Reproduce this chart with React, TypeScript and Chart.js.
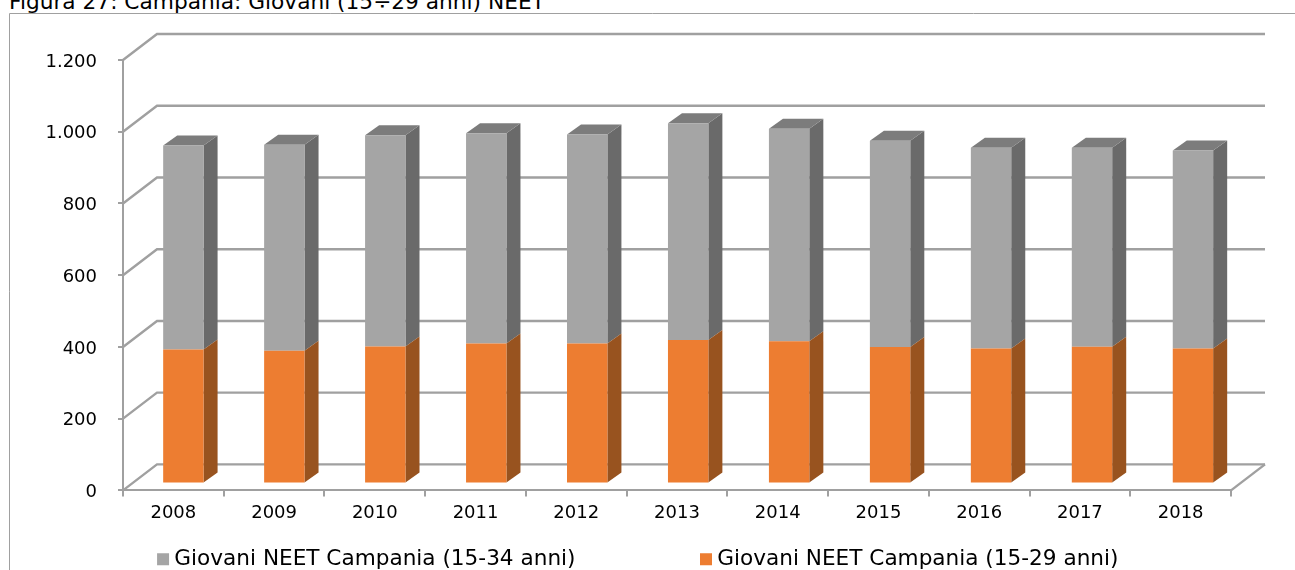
import React, { useEffect, useRef } from "react";
import { Chart, registerables } from "chart.js";

Chart.register(...registerables);

const years = ["2008", "2009", "2010", "2011", "2012", "2013", "2014", "2015", "2016", "2017", "2018"];
const neet1529 = [373, 370, 382, 390, 390, 400, 396, 380, 376, 381, 376];
const neet1534 = [569, 574, 589, 586, 583, 604, 593, 575, 560, 555, 552];
const seriesNames = ["Giovani NEET Campania (15-29 anni)", "Giovani NEET Campania (15-34 anni)"];
const yTickLabels = ["0", "200", "400", "600", "800", "1.000", "1.200"];
const figureTitle = "Figura 27: Campania: Giovani (15÷29 anni) NEET";

const FONT = "'DejaVu Sans', Verdana, sans-serif";
const GRID = "#a0a0a0";

const wall = { dx: 34, dy: -26 };
const barDepth = { dx: 14, dy: -10 };
const barShift = { dx: 9.6, dy: -7 };
const barStretch = 1.0023;
const legendGap = 130;
const faces = [
  { side: "#98531f", top: "#b3602a" },
  { side: "#6a6a6a", top: "#7c7c7c" },
];

const threeD = {
  id: "threeD",
  afterLayout(chart: any) {
    // the item spacing also acts as vertical padding in the legend: cancel it
    chart.legend.top = 548.5 - legendGap;
    chart.legend.left = 25;
    chart.legend.right = 1256;
  },
  beforeDraw(chart: any) {
    const { ctx, width, height, chartArea, scales } = chart;
    for (const item of scales.y.getLabelItems(chartArea)) {
      item.options.translation[1] += 2;
    }
    ctx.save();
    ctx.strokeStyle = "#a0a0a0";
    ctx.lineWidth = 1;
    ctx.beginPath();
    ctx.moveTo(9.5, height);
    ctx.lineTo(9.5, 13.5);
    ctx.lineTo(width, 13.5);
    ctx.stroke();
    ctx.restore();
  },
  beforeDatasetsDraw(chart: any) {
    const { ctx, chartArea, scales } = chart;
    const y = scales.y;
    ctx.save();
    ctx.strokeStyle = GRID;
    ctx.lineWidth = 2.4;
    for (const t of y.ticks) {
      const py = y.getPixelForValue(t.value);
      ctx.beginPath();
      ctx.moveTo(chartArea.left, py);
      ctx.lineTo(chartArea.left + wall.dx, py + wall.dy);
      ctx.lineTo(chartArea.right + wall.dx, py + wall.dy);
      ctx.stroke();
    }
    const base = y.getPixelForValue(0);
    ctx.beginPath();
    ctx.moveTo(chartArea.right + wall.dx, base + wall.dy);
    ctx.lineTo(chartArea.right, base);
    ctx.stroke();
    ctx.restore();
  },
  beforeDatasetDraw(chart: any, args: any) {
    const { ctx } = chart;
    ctx.save();
    ctx.translate(barShift.dx, barShift.dy);
    ctx.scale(barStretch, 1);
    const f = faces[args.index];
    for (const bar of args.meta.data) {
      const r = bar.x + bar.width / 2;
      const l = bar.x - bar.width / 2;
      ctx.fillStyle = f.side;
      ctx.beginPath();
      ctx.moveTo(r, bar.y);
      ctx.lineTo(r + barDepth.dx, bar.y + barDepth.dy);
      ctx.lineTo(r + barDepth.dx, bar.base + barDepth.dy);
      ctx.lineTo(r, bar.base);
      ctx.closePath();
      ctx.fill();
      if (args.index === 1) {
        ctx.fillStyle = f.top;
        ctx.beginPath();
        ctx.moveTo(l, bar.y);
        ctx.lineTo(l + barDepth.dx, bar.y + barDepth.dy);
        ctx.lineTo(r + barDepth.dx, bar.y + barDepth.dy);
        ctx.lineTo(r, bar.y);
        ctx.closePath();
        ctx.fill();
      }
    }
  },
  afterDatasetDraw(chart: any) {
    chart.ctx.restore();
  },
};

export default function App() {
  const ref = useRef<HTMLCanvasElement>(null);
  useEffect(() => {
    document.body.style.margin = "0";
    const chart = new Chart(ref.current as HTMLCanvasElement, {
      type: "bar",
      data: {
        labels: years,
        datasets: [
          { label: seriesNames[0], data: neet1529, backgroundColor: "#ed7d31", borderWidth: 0 },
          { label: seriesNames[1], data: neet1534, backgroundColor: "#a5a5a5", borderWidth: 0 },
        ],
      },
      plugins: [threeD],
      options: {
        animation: false,
        responsive: false,
        layout: { padding: { left: 0, right: 64, top: 60, bottom: 0 } },
        datasets: { bar: { categoryPercentage: 1, barPercentage: 0.4 } },
        scales: {
          x: {
            stacked: true,
            grid: { drawOnChartArea: false, drawTicks: true, tickLength: 6, color: GRID, lineWidth: 2 },
            border: { color: GRID, width: 2 },
            ticks: { color: "#000", font: { family: FONT, size: 18 }, padding: 6, maxRotation: 0 },
          },
          y: {
            stacked: true,
            min: 0,
            max: 1200,
            afterFit(scale: any) { scale.width = 123; },
            grid: { drawOnChartArea: false, drawTicks: true, tickLength: 5, color: GRID, lineWidth: 2 },
            border: { color: GRID, width: 2 },
            ticks: {
              stepSize: 200,
              color: "#000",
              padding: 21,
              font: { family: FONT, size: 18 },
              callback: (_v: any, i: number) => yTickLabels[i],
            },
          },
        },
        plugins: {
          title: { display: false },
          tooltip: { enabled: false },
          legend: {
            position: "bottom",
            reverse: true,
            maxHeight: 40,
            labels: {
              color: "#000",
              font: { family: FONT, size: 21.6 },
              usePointStyle: true,
              pointStyle: "rect",
              boxWidth: 1,
              boxHeight: 12,
              padding: legendGap,
            },
          },
        },
      },
    } as any);
    return () => chart.destroy();
  }, []);
  return (
    <div style={{ position: "relative", width: 1295, height: 570, overflow: "hidden" }}>
      <div style={{ position: "absolute", left: 9, top: -11, font: `21.7px ${FONT}`, color: "#000", whiteSpace: "nowrap" }}>{figureTitle}</div>
      <canvas ref={ref} width={1295} height={570} style={{ display: "block", position: "relative" }} />
    </div>
  );
}
